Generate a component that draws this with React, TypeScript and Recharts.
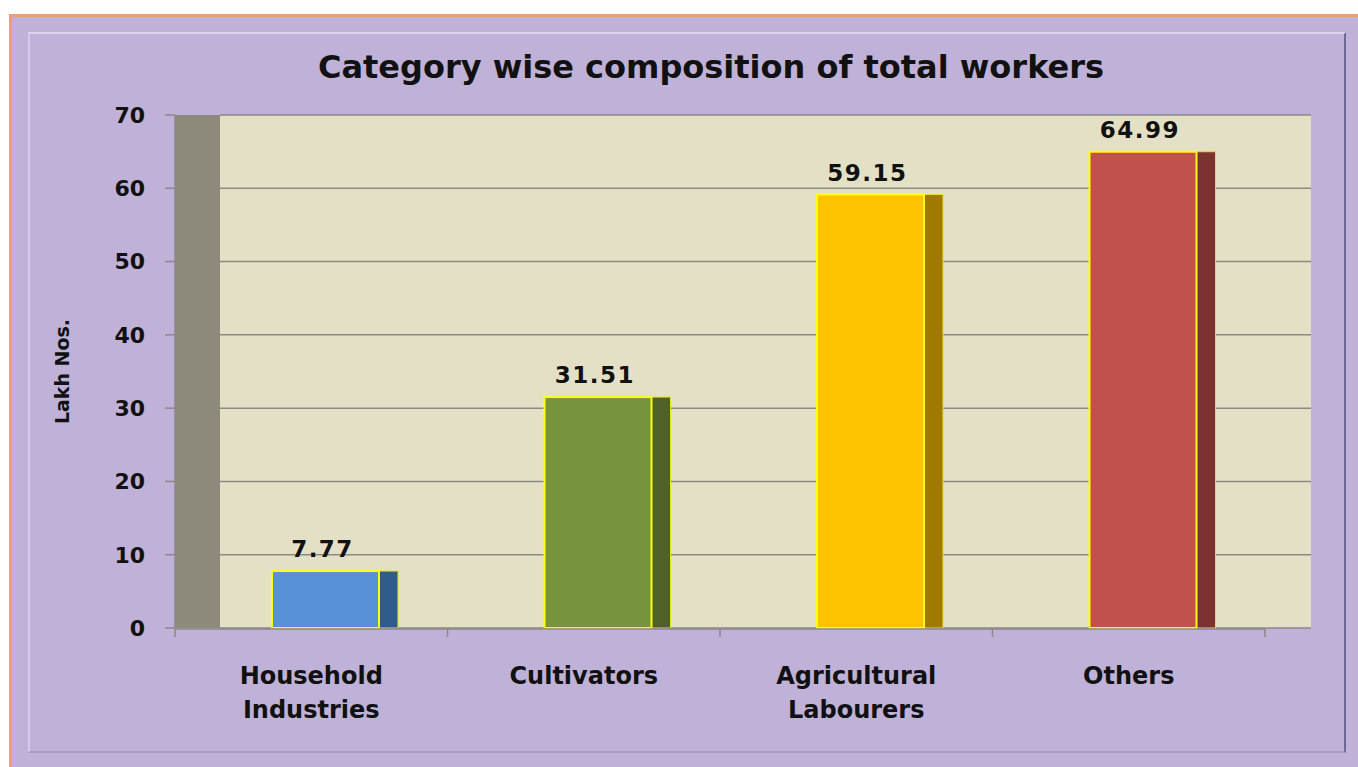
import React from "react";
import {
  BarChart, Bar, XAxis, YAxis, CartesianGrid, LabelList
} from "recharts";

// values (lakh nos.)
const categories = ["Household\nIndustries", "Cultivators", "Agricultural\nLabourers", "Others"];
const workers = [7.77, 31.51, 59.15, 64.99];
const yTicks = [0, 10, 20, 30, 40, 50, 60, 70];
const edgeTicks = [0, 1, 2, 3, 4];

const frontColors = ["#5891d9", "#77943d", "#ffc200", "#c2504d"];
const sideColors = ["#2f5c8c", "#4e6128", "#a07a00", "#7c3232"];

// pos = slot centre on the helper axis that draws the category boundary ticks
const data = categories.map((c, i) => ({ name: c, value: workers[i], pos: i + 0.5 }));

const FONT = "'DejaVu Sans', Verdana, sans-serif";
const SHIFT = 14; // 3D depth offset of the bars
const SIDE = 19;

function Bar3D(p: any) {
  const { x, y, width, height, index } = p;
  const fx = x + SHIFT;
  return (
    <g>
      <rect x={fx + width} y={y} width={SIDE} height={height} fill={sideColors[index]} stroke="#e8e020" strokeWidth={1} />
      <rect x={fx} y={y} width={width} height={height} fill={frontColors[index]} stroke="#ffff10" strokeWidth={2} />
    </g>
  );
}

function ValueLabel(p: any) {
  const { x, y, width, value } = p;
  return (
    <text x={x + SHIFT + width / 2 - 3} y={y - 14} textAnchor="middle"
      fontFamily={FONT} fontWeight="bold" fontSize={23} letterSpacing={1.5} fill="#111">
      {Number(value).toFixed(2)}
    </text>
  );
}

function CatTick(p: any) {
  const { x, y, payload } = p;
  const lines = String(payload.value).split("\n");
  return (
    <text x={x} y={y} textAnchor="middle" fontFamily={FONT} fontWeight="bold" fontSize={24} fill="#111">
      {lines.map((l, i) => (
        <tspan key={i} x={x} dy={i === 0 ? 48 : 34}>{l}</tspan>
      ))}
    </text>
  );
}

function NoLabel() {
  return <g />;
}

export default function App() {
  return (
    <div style={{ position: "absolute", left: 0, top: 0, width: 1358, height: 767, overflow: "hidden", background: "#fff" }}>
      <div style={{
        position: "absolute", left: 9, top: 14, width: 1352, height: 760,
        border: "3px solid #f0a070", background: "#bfb1d8"
      }} />
      <div style={{
        position: "absolute", left: 28, top: 32, width: 1314, height: 717,
        borderTop: "2px solid #ddd3f0", borderLeft: "2px solid #d6cbea",
        borderRight: "2px solid #6f6890", borderBottom: "2px solid #a89cc4"
      }} />
      <div style={{
        position: "absolute", left: 0, top: 48, width: 1358, textAlign: "center",
        fontFamily: FONT, fontWeight: "bold", fontSize: 32, color: "#111", paddingLeft: 64, boxSizing: "border-box"
      }}>
        Category wise composition of total workers
      </div>
      <div style={{ position: "absolute", left: 0, top: 0 }}>
        <BarChart width={1358} height={767} data={data}
          margin={{ top: 115, right: 93, bottom: 38, left: 40 }}>
          <CartesianGrid x={175} width={45} fill="#8e8a7b" horizontal={false} vertical={false} stroke="none" />
          <CartesianGrid x={220} width={1091} fill="#e4e0c6" vertical={false} stroke="#8a8a82" strokeWidth={1.5} />
          <XAxis dataKey="name" height={1} axisLine={false} tickLine={false} tick={<CatTick />} interval={0} />
          <XAxis xAxisId="edges" dataKey="pos" type="number" domain={[0, 4]} allowDataOverflow ticks={edgeTicks} interval={0}
            height={100} tick={<NoLabel />} tickSize={8} axisLine={{ stroke: "#8a8a8a", strokeWidth: 1.5 }}
            tickLine={{ stroke: "#8a8a8a", strokeWidth: 1.5 }} />
          <YAxis width={135} domain={[0, 70]} ticks={yTicks} tickSize={10} tickMargin={20}
            axisLine={{ stroke: "#8a8a8a", strokeWidth: 1.5 }} tickLine={{ stroke: "#8a8a8a", strokeWidth: 1.5 }}
            tick={{ fontFamily: FONT, fontWeight: "bold", fontSize: 22, fill: "#111" }}
            label={(lp: any) => {
              const vb = lp.viewBox || {};
              const cx = (vb.x ?? 40) + 22;
              const cy = (vb.y ?? 115) + (vb.height ?? 513) / 2;
              return (
                <text x={cx} y={cy} transform={`rotate(-90 ${cx} ${cy})`} textAnchor="middle" dominantBaseline="central"
                  fontFamily={FONT} fontWeight="bold" fontSize={19} fill="#111">Lakh Nos.</text>
              );
            }} />
          <Bar dataKey="value" barSize={107} shape={<Bar3D />} isAnimationActive={false}>
            <LabelList dataKey="value" content={<ValueLabel />} />
          </Bar>
        </BarChart>
      </div>
    </div>
  );
}
